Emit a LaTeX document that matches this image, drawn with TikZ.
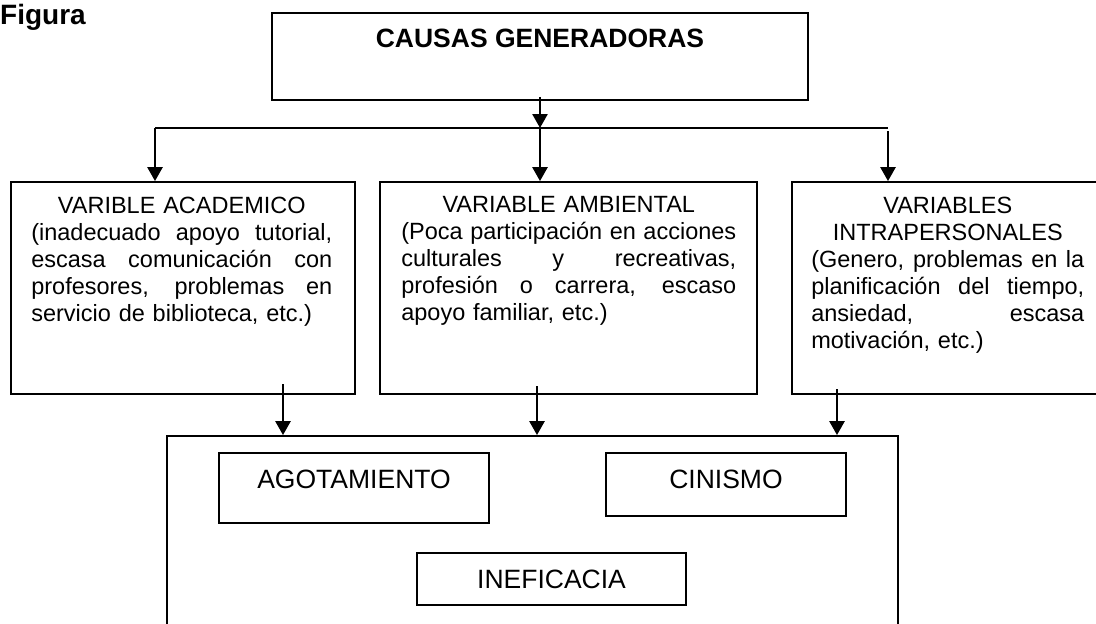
\documentclass[tikz,border=0pt]{standalone}
\usepackage{fontspec}
\setmainfont{Liberation Sans}
\usetikzlibrary{arrows.meta,
                positioning}
\setlength{\parindent}{0pt}
\newcommand{\centrada}[1]{\makebox[\hsize]{#1}}
\newcommand{\justa}[1]{{\spaceskip=0pt\xspaceskip=0pt\makebox[\hsize][s]{#1}}}
\tikzset{caja/.style={draw, line width=1.8pt, inner sep=0pt},
    texto/.style={inner sep=0pt, align=left, font=\fontsize{23.5}{27}\selectfont},
    etiqueta/.style={inner sep=0pt, font=\fontsize{26.5}{28}\selectfont},
    linea/.style={line width=2pt},
    flecha/.style={line width=2.6pt, -{Triangle[length=14pt, width=15pt]}}}

\begin{document}
\begin{tikzpicture}[x=1pt, y=-1pt]
    \useasboundingbox (0,0) rectangle (1096,624);
    \node[anchor=north west, inner sep=0pt, font=\bfseries\fontsize{28}{30}\selectfont] (figura) at (0,4) {Figura};

    % causas
    \node[caja, minimum width=536pt, minimum height=87pt] (causas) at (540,56.5) {};
    \node[inner sep=0pt, font=\bfseries\fontsize{26.5}{30}\selectfont, below=17pt of causas.north] (causastxt) {CAUSAS GENERADORAS};

    % variables
    \node[caja, minimum width=344pt, minimum height=212pt] (acad) at (183,288) {};
    \node[caja, minimum width=377pt, minimum height=212pt] (amb) at (568.5,288) {};
    \node[caja, minimum width=328pt, minimum height=212pt] (intra) at (956,288) {};

    \node[texto, text width=301pt, below right=16pt and 21pt of acad.north west] (acadtxt)
        {\centrada{VARIBLE ACADEMICO}\\
         \justa{(inadecuado apoyo tutorial,}\\
         \justa{escasa comunicación con}\\
         \justa{profesores, problemas en}\\
         servicio de biblioteca, etc.)};
    \node[texto, text width=335pt, below right=15pt and 22pt of amb.north west] (ambtxt)
        {\centrada{VARIABLE AMBIENTAL}\\
         \justa{(Poca participación en acciones}\\
         \justa{culturales y recreativas,}\\
         \justa{profesión o carrera, escaso}\\
         apoyo familiar, etc.)};
    \node[texto, text width=273pt, below right=16pt and 20pt of intra.north west] (intratxt)
        {\centrada{VARIABLES}\\
         \centrada{INTRAPERSONALES}\\
         \justa{(Genero, problemas en la}\\
         \justa{planificación del tiempo,}\\
         \justa{ansiedad, escasa}\\
         motivación, etc.)};

    % sindrome
    \node[caja, minimum width=731pt, minimum height=264pt] (sindrome) at (532.5,568) {};
    \node[caja, minimum width=270pt, minimum height=70pt] (agot) at (354,488) {};
    \node[etiqueta, below=18pt of agot.north] (agottxt) {AGOTAMIENTO};
    \node[caja, minimum width=240pt, minimum height=63pt] (cinismo) at (726,484.5) {};
    \node[etiqueta, below=18pt of cinismo.north] (cinismotxt) {CINISMO};
    \node[caja, etiqueta, minimum width=269pt, minimum height=52pt] (inef) at (551.5,579) {INEFICACIA};

    % conectores
    \coordinate (ramaizq) at (155,128);
    \coordinate (ramader) at (888,128);
    \draw[linea] (ramaizq) -- (ramader);
    \draw[flecha] ([yshift=4pt]causas.south) -- (causas.south |- ramaizq);
    \draw[flecha] (causas.south |- ramaizq) -- (causas.south |- amb.north);
    \draw[flecha] (ramaizq) -- (ramaizq |- acad.north);
    \draw[flecha] ([yshift=-3pt]ramader) -- (ramader |- intra.north);

    \coordinate (bajaizq) at (283,384);
    \coordinate (bajacen) at (537,386);
    \coordinate (bajader) at (837,389);
    \foreach \b in {bajaizq,bajacen,bajader}
        \draw[flecha] (\b) -- (\b |- sindrome.north);
\end{tikzpicture}
\end{document}
